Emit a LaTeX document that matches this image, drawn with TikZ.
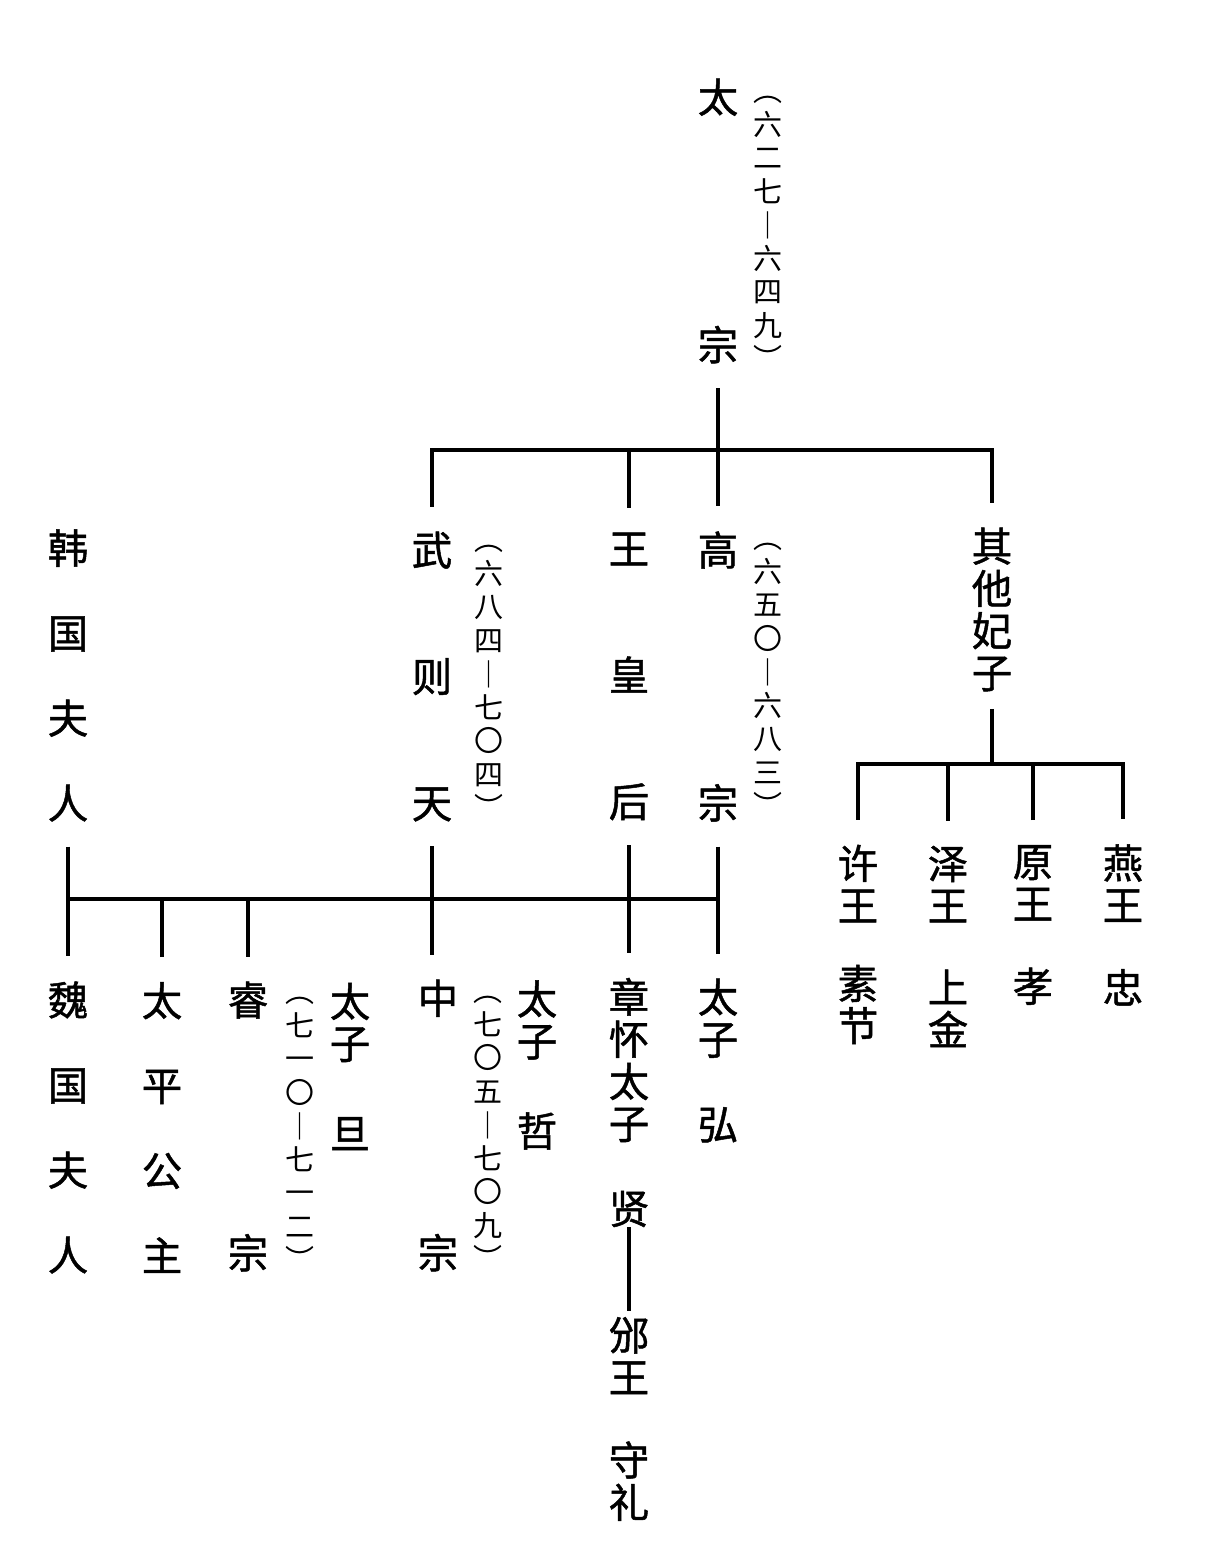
\documentclass[tikz,border=0pt]{standalone}
\usepackage{fontspec}
\setmainfont{Noto Sans CJK SC}
\newfontfamily\heavycjk{Noto Sans CJK SC}[FakeBold=1.2]
\newcommand\longbar{\raisebox{-0.05em}{\scalebox{1}[1.1]{︱}}}
\tikzset{
  person/.style={align=center, inner sep=0pt, outer sep=0.5cm, font=\heavycjk\fontsize{23pt}{24pt}\selectfont},
  years/.style={align=center, inner sep=0pt, font=\fontsize{16.5pt}{19.1pt}\selectfont},
  link/.style={black, line width=2pt},
}
\begin{document}
\begin{tikzpicture}[x=0.02cm, y=-0.02cm]
  \useasboundingbox (0,0) rectangle (1205,1565);
  \node[person] (taizong) at (718,221) {太\\[117pt]宗};
  \node[years] (taizongy) at (768,233) {︵\\六\\二\\七\\\longbar\\六\\四\\九\\︶};

  \node[person] (hgfr) at (68,675.5) {韩\\[24.4pt]国\\[24.4pt]夫\\[24.4pt]人};
  \node[person] (wzt) at (432,676.5) {武\\[48pt]则\\[48pt]天};
  \node[years] (wzty) at (489,682) {︵\\六\\八\\四\\\longbar\\七\\〇\\四\\︶};
  \node[person] (whh) at (629,676.5) {王\\[48pt]皇\\[48pt]后};
  \node[person] (gz) at (718,676.5) {高\\[120pt]宗};
  \node[years] (gzy) at (768,680) {︵\\六\\五\\〇\\\longbar\\六\\八\\三\\︶};
  \node[person, outer sep=0.35cm] (qtfz) at (992,609.5) {其\\他\\妃\\子};

  \node[person] (xwsj) at (858,944.5) {许\\王\\[20.4pt]素\\节};
  \node[person] (zwsj) at (948,946.5) {泽\\王\\[22.6pt]上\\金};
  \node[person] (ywx) at (1033,925) {原\\王\\[23pt]孝};
  \node[person] (yanwz) at (1123,925) {燕\\王\\[23pt]忠};

  \node[person] (wgfr) at (68,1127.5) {魏\\[24.4pt]国\\[24.4pt]夫\\[24.4pt]人};
  \node[person] (tpgz) at (162,1127.5) {太\\[24.4pt]平\\[24.4pt]公\\[24.4pt]主};
  \node[person] (rz) at (248,1126.5) {睿\\[120pt]宗};
  \node[years] (rzy) at (300,1134) {︵\\七\\一\\〇\\\longbar\\七\\一\\二\\︶};
  \node[person] (tzd) at (350,1066.5) {太\\子\\[27.2pt]旦};
  \node[person] (zz) at (438,1125.5) {中\\[121pt]宗};
  \node[years] (zzy) at (488,1133) {︵\\七\\〇\\五\\\longbar\\七\\〇\\九\\︶};
  \node[person] (tzz) at (537,1065) {太\\子\\[27.2pt]哲};
  \node[person] (zhtzx) at (629,1102.5) {章\\怀\\太\\子\\[24.4pt]贤};
  \node[person] (bwsl) at (629,1419) {邠\\王\\[23.2pt]守\\礼};
  \node[person] (tzh) at (718,1060.5) {太\\子\\[24.4pt]弘};

  \coordinate (topbar) at (718,450);
  \coordinate (sidebar) at (990,764);
  \coordinate (lowbar) at (69,899);

  \draw[link] (taizong.south) -- (gz.north);
  \draw[link] (wzt.north) |- (qtfz.north |- topbar) -- ([yshift=0.15cm]qtfz.north);
  \draw[link] (whh.north) -- (whh.north |- topbar);

  \draw[link] (qtfz.south) -- (qtfz.south |- sidebar);
  \draw[link] (xwsj.north) |- (yanwz.north |- sidebar) -- (yanwz.north);
  \draw[link] (zwsj.north) -- (zwsj.north |- sidebar);
  \draw[link] (ywx.north) -- (ywx.north |- sidebar);

  \draw[link] (hgfr.south) -- (wgfr.north);
  \draw[link] (hgfr.south |- lowbar) -- (gz.south |- lowbar);
  \draw[link] (tpgz.north) -- (tpgz.north |- lowbar);
  \draw[link] (rz.north) -- (rz.north |- lowbar);
  \draw[link] (wzt.south) -- (wzt.south |- zz.north);
  \draw[link] (whh.south) -- (zhtzx.north);
  \draw[link] (gz.south) -- (tzh.north);
  \draw[link, shorten <=-0.5cm, shorten >=-0.38cm] (zhtzx.south) -- (bwsl.north);
\end{tikzpicture}
\end{document}
